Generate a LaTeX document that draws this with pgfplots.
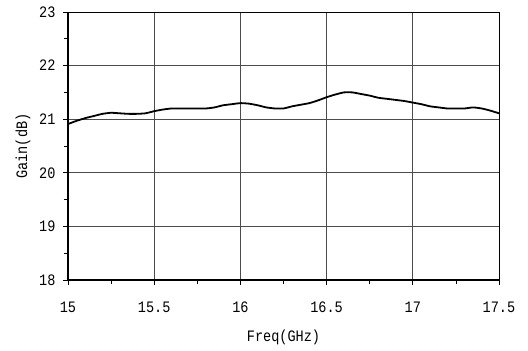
\documentclass[border=0pt]{standalone}
\usepackage{pgfplots}
\pgfplotsset{compat=1.18}
\usepackage{fontspec}
\setmainfont{Liberation Mono}[FakeStretch=0.85]
\begin{document}
\fontsize{16}{18}\selectfont
\begin{tikzpicture}
\begin{axis}[
  scale only axis,
  width=431bp, height=268bp,
  xmin=15, xmax=17.5, ymin=18, ymax=23,
  xtick={15,15.5,...,17.5},
  ytick={18,19,...,23},
  minor x tick num=1,
  minor y tick num=1,
  tick align=outside,
  tick pos=left,
  major tick length=5bp,
  minor tick length=4bp,
  tick style={black, line width=0.8bp},
  grid=major,
  major grid style={black!70, line width=0.7bp},
  axis line style={black, line width=0.9bp},
  /pgf/number format/assume math mode=true,
  xticklabel style={yshift=-11bp},
  yticklabel style={xshift=-2bp},
  xlabel={Freq(GHz)},
  ylabel={Gain(dB)},
  xlabel style={yshift=-7bp},
  ylabel style={yshift=-2bp},
  clip=false,
]
\addplot[black, line width=1.8bp, smooth, tension=0.3] coordinates {
(15.00,20.91) (15.05,20.97) (15.10,21.02) (15.15,21.06) (15.20,21.10)
(15.25,21.12) (15.30,21.11) (15.35,21.10) (15.40,21.10) (15.45,21.11)
(15.50,21.15) (15.55,21.18) (15.60,21.20) (15.65,21.20) (15.70,21.20)
(15.75,21.20) (15.80,21.20) (15.85,21.22) (15.90,21.26) (15.95,21.28)
(16.00,21.30) (16.05,21.29) (16.10,21.26) (16.15,21.22) (16.20,21.20)
(16.25,21.20) (16.30,21.24) (16.35,21.27) (16.40,21.30) (16.45,21.35)
(16.50,21.41) (16.55,21.46) (16.60,21.50) (16.65,21.50) (16.70,21.47)
(16.75,21.44) (16.80,21.40) (16.85,21.38) (16.90,21.36) (16.95,21.34)
(17.00,21.31) (17.05,21.28) (17.10,21.24) (17.15,21.22) (17.20,21.20)
(17.25,21.20) (17.30,21.20) (17.35,21.22) (17.40,21.20) (17.45,21.16)
(17.50,21.11)
};
\draw[black, line width=1.6bp] (rel axis cs:0,1) -- (rel axis cs:0,0) -- (rel axis cs:1,0);
\path (rel axis cs:0,0) ++(-68bp,-64bp) coordinate (bbsw);
\path (rel axis cs:1,1) ++(29bp,12bp) coordinate (bbne);
\end{axis}
\path (bbsw) rectangle (bbne);
\end{tikzpicture}
\end{document}
